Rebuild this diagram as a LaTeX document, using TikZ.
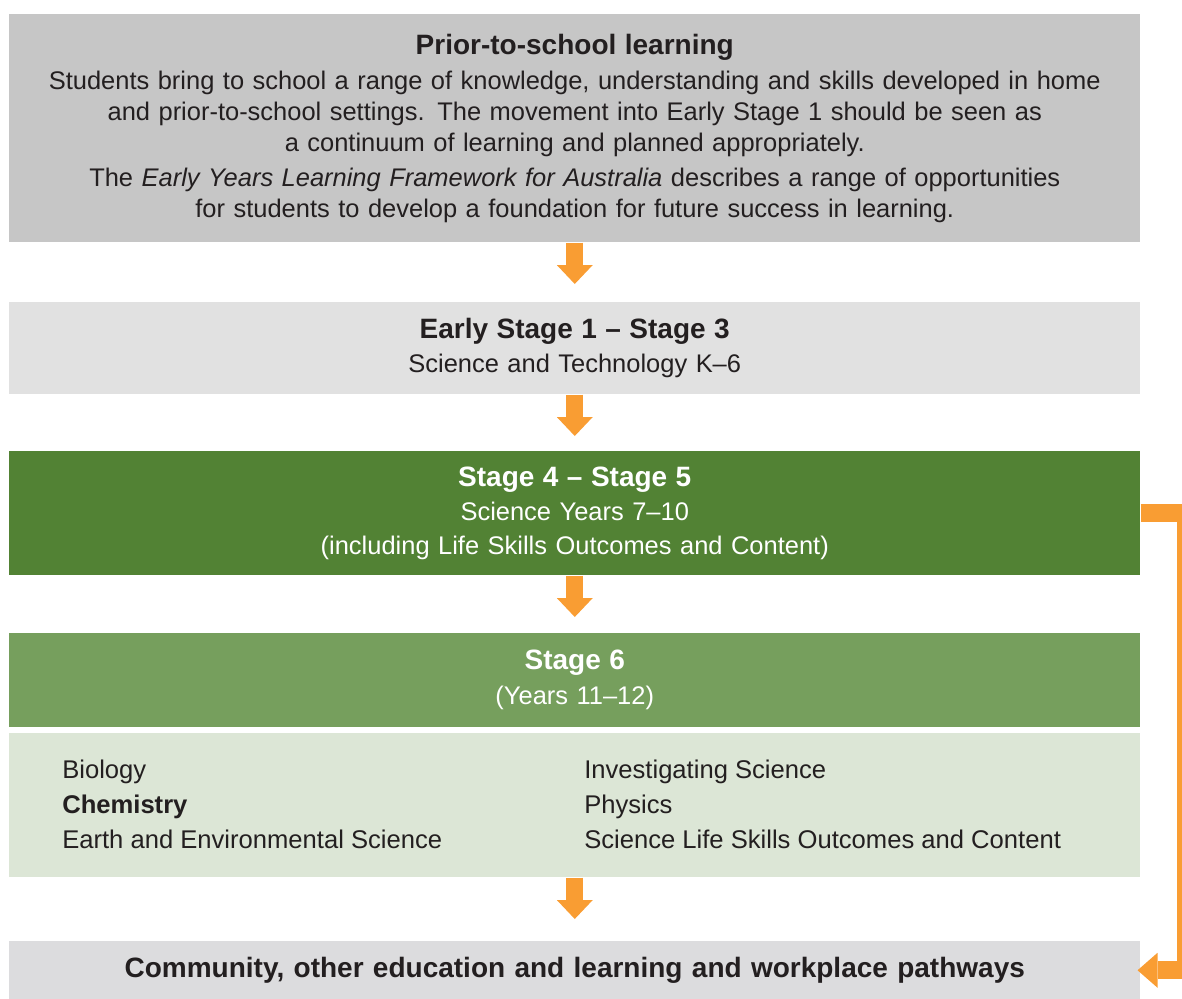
\documentclass[tikz,border=0pt]{standalone}
\usepackage{fontspec}
\setmainfont{Liberation Sans}
\usetikzlibrary{arrows.meta}

\definecolor{boxgrey}{HTML}{C6C6C6}
\definecolor{palegrey}{HTML}{E1E1E1}
\definecolor{endgrey}{HTML}{DCDCDE}
\definecolor{darkgreen}{HTML}{528234}
\definecolor{midgreen}{HTML}{769F5D}
\definecolor{palegreen}{HTML}{DCE6D6}
\definecolor{flowor}{HTML}{F99D33}
\definecolor{ink}{HTML}{231F20}

\newcommand{\headfont}{\fontsize{21}{25}\selectfont\bfseries}

\begin{document}
\begin{tikzpicture}[x=0.75pt,y=-0.75pt,
  panel/.style={rectangle, inner sep=0pt, anchor=north west,
    minimum width=848.25pt, text width=840pt, align=center, text=ink},
  bodytext/.style={font=\fontsize{19.1}{22.9}\selectfont},
  stagetext/.style={font=\fontsize{19.1}{25.5}\selectfont},
  listtext/.style={font=\fontsize{19.2}{26.25}\selectfont, align=left,
    anchor=west, inner sep=0pt, text=ink},
  downflow/.style={draw=flowor, line width=12.75pt,
    -{Triangle[width=27pt,length=14.25pt,line width=0pt]}},
  sideflow/.style={draw=flowor, line width=13.5pt,
    -{Triangle[width=26.25pt,length=15pt,line width=0pt]}}
]
\useasboundingbox (0,0) rectangle (1182,999);

% Prior-to-school
\node[panel, fill=boxgrey, minimum height=171pt, bodytext] (prior) at (9,14)
  {{\headfont Prior-to-school learning}\\[4pt]
   Students bring to school a range of knowledge, understanding and skills developed in home\\
   and prior-to-school settings. The movement into Early Stage 1 should be seen as\\
   a continuum of learning and planned appropriately.\\[4pt]
   The \textit{Early Years Learning Framework for Australia} describes a range of opportunities\\
   for students to develop a foundation for future success in learning.};

% Early Stage 1 - Stage 3
\node[panel, fill=palegrey, minimum height=69pt, stagetext] (es1) at (9,302)
  {{\headfont Early Stage 1 – Stage 3}\\
   Science and Technology K–6};

% Stage 4 - Stage 5
\node[panel, fill=darkgreen, minimum height=93pt, stagetext, text=white] (s45) at (9,451)
  {{\headfont Stage 4 – Stage 5}\\
   Science Years 7–10\\
   (including Life Skills Outcomes and Content)};

% Stage 6 heading
\node[panel, fill=midgreen, minimum height=70.5pt, font=\fontsize{19.1}{26.25}\selectfont, text=white] (s6) at (9,633)
  {{\headfont Stage 6}\\
   (Years 11–12)};

% Stage 6 courses
\node[panel, fill=palegreen, minimum height=108pt] (courses) at (9,733) {};
\node[listtext] (leftcol) at (62,804)
  {Biology\\ \textbf{Chemistry}\\ Earth and Environmental Science};
\node[listtext] (rightcol) at (584,804)
  {Investigating Science\\ Physics\\ Science Life Skills Outcomes and Content};

% Pathways
\node[panel, fill=endgrey, minimum height=43.5pt, font=\headfont] (path) at (9,941)
  {Community, other education and learning and workplace pathways};

% Flow arrows
\draw[downflow, shorten >=13.5pt] (prior.south) -- (es1.north);
\draw[downflow, shorten >=11.25pt] (es1.south) -- (s45.north);
\draw[downflow, shorten >=12pt] (s45.south) -- (s6.north);
\draw[downflow, shorten >=16.5pt] (courses.south) -- (path.north);
\draw[sideflow, shorten >=-2.25pt] (s45.east) -- ++(45,0) |- (path.east);
\end{tikzpicture}
\end{document}
